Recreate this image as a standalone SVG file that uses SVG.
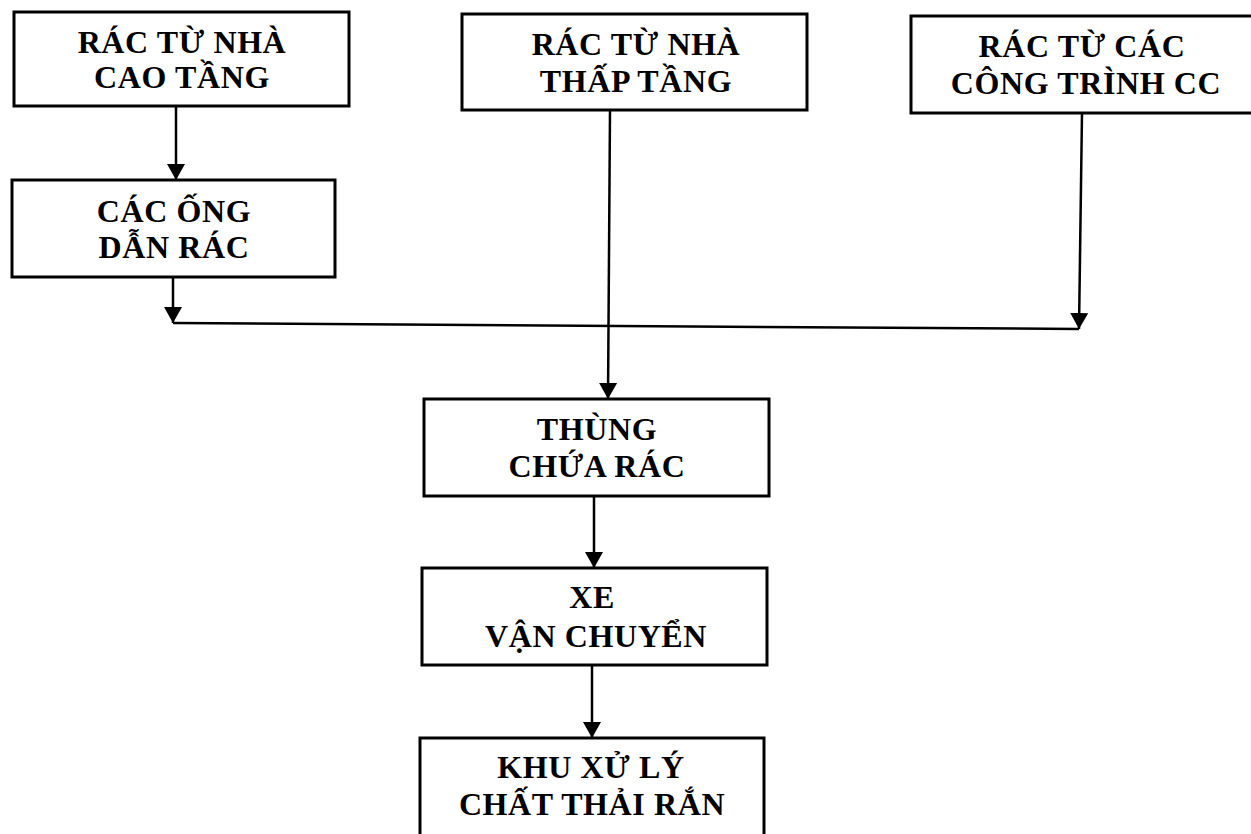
<svg xmlns="http://www.w3.org/2000/svg" width="1251" height="834" viewBox="0 0 1251 834">
<style>
.box{fill:#fff;stroke:#000;stroke-width:3}
.t{font-family:"Liberation Serif","Times New Roman",serif;font-weight:bold;font-size:32px;letter-spacing:0.6px;fill:#000;text-anchor:middle}
.ln{fill:none;stroke:#000;stroke-width:2.5}
</style>
<defs>
<marker id="ah" markerUnits="userSpaceOnUse" markerWidth="17" markerHeight="19" refX="16" refY="9" orient="auto" viewBox="0 0 17 18">
<path d="M0,0 L16,9 L0,18 z" fill="#000"/>
</marker>
</defs>
<rect width="1251" height="834" fill="#fff"/>
<g id="connectors">
<line class="ln" x1="176" y1="106" x2="176" y2="180" marker-end="url(#ah)"/>
<line class="ln" x1="173" y1="277" x2="173" y2="323" marker-end="url(#ah)"/>
<line class="ln" x1="173" y1="323" x2="1079" y2="329"/>
<line class="ln" x1="1082" y1="113" x2="1079" y2="329" marker-end="url(#ah)"/>
<line class="ln" x1="610" y1="110" x2="608" y2="399" marker-end="url(#ah)"/>
<line class="ln" x1="594" y1="496" x2="594" y2="568" marker-end="url(#ah)"/>
<line class="ln" x1="592" y1="665" x2="592" y2="738" marker-end="url(#ah)"/>
</g>
<g id="n1">
<rect class="box" x="14" y="12" width="335" height="94"/>
<text class="t" x="182" y="53">RÁC TỪ NHÀ</text>
<text class="t" x="182" y="88">CAO TẦNG</text>
</g>
<g id="n2">
<rect class="box" x="12" y="180" width="323" height="97"/>
<text class="t" x="174" y="222">CÁC ỐNG</text>
<text class="t" x="174" y="258">DẪN RÁC</text>
</g>
<g id="n3">
<rect class="box" x="462" y="14" width="345" height="96"/>
<text class="t" x="636" y="55">RÁC TỪ NHÀ</text>
<text class="t" x="636" y="92">THẤP TẦNG</text>
</g>
<g id="n4">
<rect class="box" x="911" y="16" width="360" height="97"/>
<text class="t" x="1082" y="57">RÁC TỪ CÁC</text>
<text class="t" x="1086" y="94">CÔNG TRÌNH CC</text>
</g>
<g id="n5">
<rect class="box" x="424" y="399" width="345" height="97"/>
<text class="t" x="597" y="440">THÙNG</text>
<text class="t" x="597" y="477">CHỨA RÁC</text>
</g>
<g id="n6">
<rect class="box" x="422" y="568" width="345" height="97"/>
<text class="t" x="592" y="608">XE</text>
<text class="t" x="596" y="647">VẬN CHUYỂN</text>
</g>
<g id="n7">
<rect class="box" x="420" y="738" width="344" height="110"/>
<text class="t" x="591" y="778">KHU XỬ LÝ</text>
<text class="t" x="592" y="815">CHẤT THẢI RẮN</text>
</g>
</svg>
